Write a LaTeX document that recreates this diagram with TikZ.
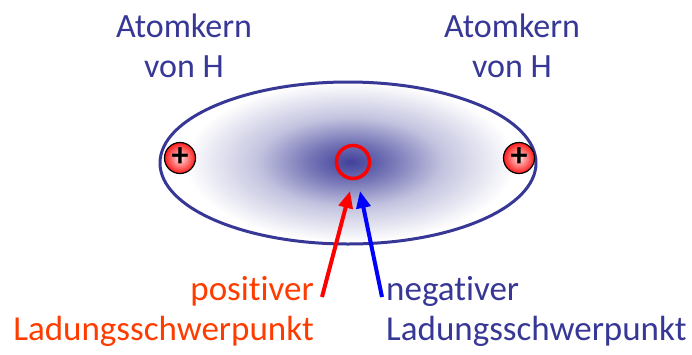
\documentclass[tikz,border=0pt]{standalone}
\usepackage{fontspec}
\setmainfont{Carlito}[Ligatures=NoCommon]
\usetikzlibrary{arrows.meta, positioning, calc}
\definecolor{hblau}{RGB}{55,55,150}
\definecolor{lorange}{RGB}{255,60,0}
\pgfdeclareradialshading{wolke}{\pgfpoint{0bp}{0bp}}{color(0bp)=(hblau!95); color(6bp)=(hblau!70); color(14bp)=(hblau!30); color(25bp)=(white); color(50bp)=(white)}

\begin{document}
\begin{tikzpicture}[x=1pt,y=-1pt,
  lbl/.style={font=\fontsize{34}{40}\selectfont,text=hblau,align=center,inner sep=0pt},
  kern/.style={circle,draw=black,line width=1.2pt,inner color=red!12,outer color=red!90,minimum size=31pt,inner sep=0pt,font=\fontsize{34}{34}\selectfont\bfseries},
  arr/.style={-{Triangle[length=17pt,width=14pt]},line width=4pt}]
  \useasboundingbox (0,0) rectangle (692,354);
  \shade[shading=wolke] (350,162) ellipse (165 and 80);
  \draw[hblau,line width=3pt] (348,163) ellipse (188 and 81);
  \node[kern](k1) at (180,158){\raisebox{1pt}{+}};
  \node[kern](k2) at (519,158){\raisebox{1pt}{+}};
  \node[circle,draw=red,line width=3.5pt,minimum size=33pt,inner sep=0pt](mitte) at (353,162){};
  \node[lbl](a1) at (184,46){Atomkern\\von H};
  \node[lbl](a2) at (512,46){Atomkern\\von H};
  \node[lbl,font=\fontsize{35}{40}\selectfont,text=lorange,align=right,anchor=east](pos) at (314,311){positiver\\Ladungsschwerpunkt};
  \node[lbl,font=\fontsize{35}{40}\selectfont,align=left,anchor=west](neg) at (386,311){negativer\\Ladungsschwerpunkt};
  \coordinate (rs) at (322,297);
  \coordinate (rt) at (350,191);
  \coordinate (bs) at (382,297);
  \coordinate (bt) at (360,191);
  \draw[arr,red](rs)--(rt);
  \draw[arr,blue](bs)--(bt);
\end{tikzpicture}
\end{document}
